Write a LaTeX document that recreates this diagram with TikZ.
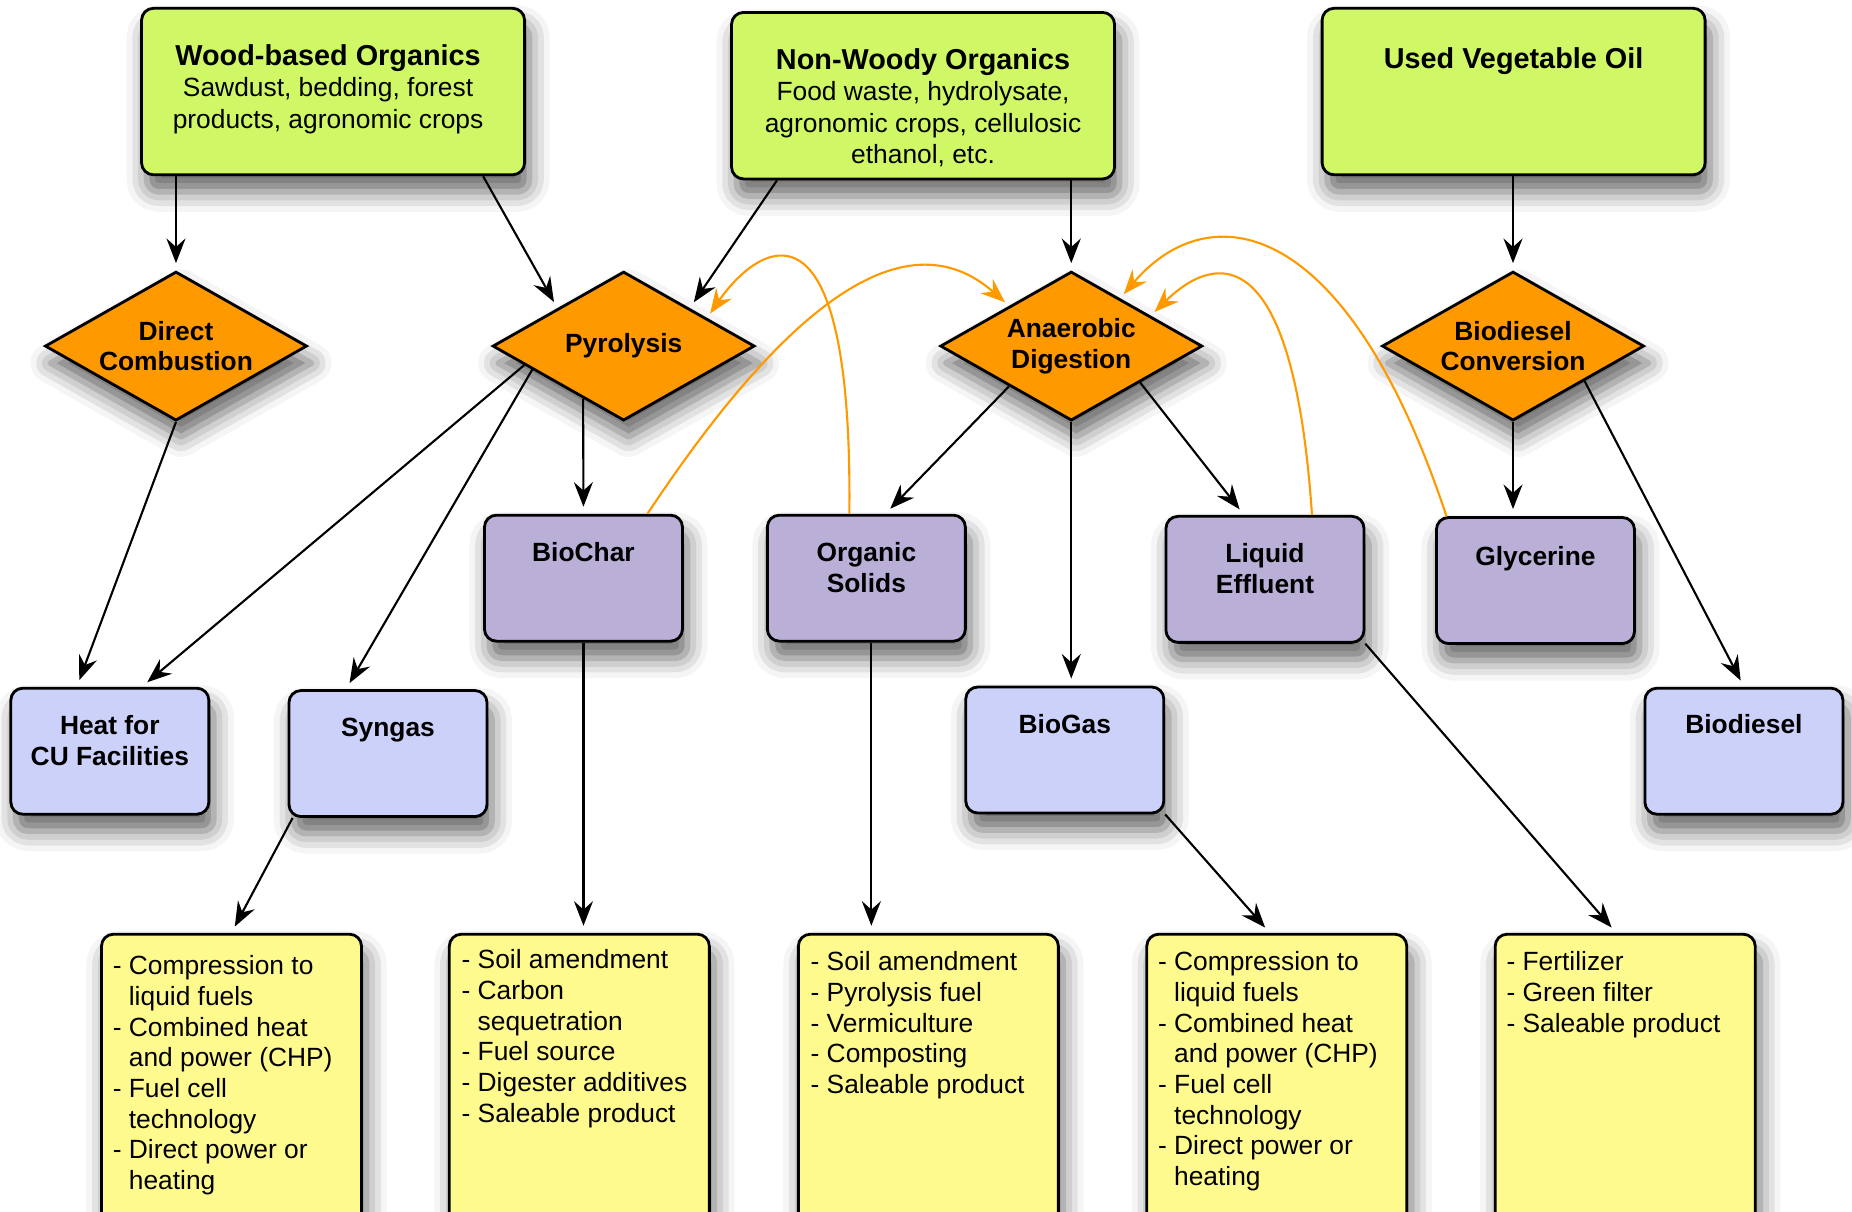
\documentclass[tikz,border=0pt]{standalone}
\usepackage{fontspec}
\setmainfont{Liberation Sans}
\usepackage{tikz}
\usetikzlibrary{positioning}
\usetikzlibrary{shapes.geometric}
\usetikzlibrary{arrows.meta}
\usetikzlibrary{calc}
\usetikzlibrary{shadows.blur}
\usepackage{xcolor}

\definecolor{feedgreen}{RGB}{208,248,102}
\definecolor{procorange}{RGB}{255,153,0}
\definecolor{copurple}{RGB}{186,175,214}
\definecolor{endblue}{RGB}{204,209,250}
\definecolor{useyellow}{RGB}{255,250,142}

\newcommand{\titlefont}{\fontsize{8.2}{9.2}\selectfont\bfseries}
\newcommand{\listindent}{\phantom{- }}

\tikzset{
    boxshadow/.style={blur shadow={shadow xshift=0.5mm, shadow yshift=-1.7mm,
        shadow blur radius=2mm, shadow opacity=60}},
    feedbox/.style={draw, line width=0.8pt, rounded corners=0.12cm, fill=feedgreen,
        minimum width=3.83cm, minimum height=1.665cm, boxshadow},
    procdiamond/.style={diamond, draw, line width=0.8pt, fill=procorange, aspect=1.76,
        inner sep=0pt, minimum width=2.62cm, minimum height=1.49cm, align=center,
        font=\fontsize{7.5}{8.74}\selectfont\bfseries, boxshadow},
    cobox/.style={draw, line width=0.8pt, rounded corners=0.12cm, fill=copurple,
        minimum width=1.98cm, minimum height=1.26cm, boxshadow},
    endbox/.style={cobox, fill=endblue},
    usebox/.style={draw, line width=0.8pt, rounded corners=0.12cm, fill=useyellow,
        minimum width=2.6cm, minimum height=3.19cm, boxshadow},
    boxtext/.style={anchor=north, inner sep=0pt, align=center,
        font=\fontsize{7.5}{8.74}\selectfont\bfseries},
    feedtext/.style={anchor=north, inner sep=0pt, align=center,
        font=\fontsize{7.5}{8.9}\selectfont},
    listtext/.style={anchor=north west, inner sep=0pt, align=left,
        font=\fontsize{7.5}{8.74}\selectfont},
    flow/.style={-{Stealth[length=7pt, width=5.4pt, inset=2.4pt]}, line width=0.6pt,
        shorten >=2pt},
    recycle/.style={-{Stealth[length=7pt, width=5.4pt, inset=2.4pt]}, line width=0.6pt,
        draw=procorange, shorten >=1.5pt}
}

\begin{document}
\begin{tikzpicture}[x=0.01181cm, y=-0.01181cm]
    \useasboundingbox (0,0) rectangle (1568,1026);

    % Feedstocks
    \node[feedbox] (wood) at (282,77.5) {};
    \node[feedbox] (nonwoody) at (781.5,81) {};
    \node[feedbox] (oil) at (1281.5,77.5) {};
    \node[feedtext] (woodtxt) at ([xshift=-0.05cm, yshift=-0.37cm]wood.north)
        {{\titlefont Wood-based Organics}\\Sawdust, bedding, forest\\products, agronomic crops};
    \node[feedtext] (nonwoodytxt) at ([yshift=-0.37cm]nonwoody.north)
        {{\titlefont Non-Woody Organics}\\Food waste, hydrolysate,\\agronomic crops, cellulosic\\ethanol, etc.};
    \node[feedtext] (oiltxt) at ([yshift=-0.40cm]oil.north) {{\titlefont Used Vegetable Oil}};

    % Processes
    \node[procdiamond] (direct) at (149,293) {Direct\\Combustion};
    \node[procdiamond] (pyro) at (528,293) {Pyrolysis};
    \node[procdiamond] (anaer) at (907,293) {Anaerobic\\Digestion};
    \node[procdiamond] (bdconv) at (1281,293) {Biodiesel\\Conversion};

    % Co-products
    \node[cobox] (biochar) at (494,489.5) {};
    \node[cobox] (solids) at (733.5,489.5) {};
    \node[cobox] (effluent) at (1071,490.5) {};
    \node[cobox] (glycerine) at (1300,491.5) {};
    \node[boxtext] (biochartxt) at ([yshift=-0.28cm]biochar.north) {BioChar};
    \node[boxtext] (solidstxt) at ([yshift=-0.28cm]solids.north) {Organic\\Solids};
    \node[boxtext] (effluenttxt) at ([yshift=-0.28cm]effluent.north) {Liquid\\Effluent};
    \node[boxtext] (glycerinetxt) at ([yshift=-0.30cm]glycerine.north) {Glycerine};

    % End products
    \node[endbox] (heat) at (93,636) {};
    \node[endbox] (syngas) at (328.5,638) {};
    \node[endbox] (biogas) at (901.5,635) {};
    \node[endbox] (biodiesel) at (1476.5,636) {};
    \node[boxtext] (heattxt) at ([yshift=-0.28cm]heat.north) {Heat for\\CU Facilities};
    \node[boxtext] (syngastxt) at ([yshift=-0.28cm]syngas.north) {Syngas};
    \node[boxtext] (biogastxt) at ([yshift=-0.28cm]biogas.north) {BioGas};
    \node[boxtext] (biodieseltxt) at ([yshift=-0.27cm]biodiesel.north) {Biodiesel};

    % Uses
    \node[usebox] (use1) at (196,926) {};
    \node[usebox] (use2) at (490.5,926) {};
    \node[usebox] (use3) at (786,926) {};
    \node[usebox] (use4) at (1081,926) {};
    \node[usebox] (use5) at (1376,926) {};
    \node[listtext] (use1txt) at ([xshift=0.12cm, yshift=-0.22cm]use1.north west)
        {- Compression to\\\listindent liquid fuels\\- Combined heat\\\listindent and power (CHP)\\- Fuel cell\\\listindent technology\\- Direct power or\\\listindent heating};
    \node[listtext] (use2txt) at ([xshift=0.13cm, yshift=-0.16cm]use2.north west)
        {- Soil amendment\\- Carbon\\\listindent sequetration\\- Fuel source\\- Digester additives\\- Saleable product};
    \node[listtext] (use3txt) at ([xshift=0.13cm, yshift=-0.18cm]use3.north west)
        {- Soil amendment\\- Pyrolysis fuel\\- Vermiculture\\- Composting\\- Saleable product};
    \node[listtext] (use4txt) at ([xshift=0.12cm, yshift=-0.18cm]use4.north west)
        {- Compression to\\\listindent liquid fuels\\- Combined heat\\\listindent and power (CHP)\\- Fuel cell\\\listindent technology\\- Direct power or\\\listindent heating};
    \node[listtext] (use5txt) at ([xshift=0.12cm, yshift=-0.18cm]use5.north west)
        {- Fertilizer\\- Green filter\\- Saleable product};

    % Main flows
    \draw[flow] (direct.north |- wood.south) -- (direct.north);
    \draw[flow] ([xshift=1.5cm]wood.south) -- (pyro.north west);
    \draw[flow] ([xshift=-1.46cm]nonwoody.south) -- (pyro.north east);
    \draw[flow] (anaer.north |- nonwoody.south) -- (anaer.north);
    \draw[flow] (bdconv.north |- oil.south) -- (bdconv.north);
    \draw[flow] (direct.south) -- ([xshift=-0.33cm]heat.north);
    \draw[flow] ($(pyro.west)!0.25!(pyro.south)$) -- ([xshift=0.32cm]heat.north);
    \draw[flow] ($(pyro.west)!0.31!(pyro.south)$) -- ([xshift=-0.42cm]syngas.north);
    \draw[flow] ($(pyro.west)!0.694!(pyro.south)$) -- (biochar.north);
    \draw[flow] ($(anaer.west)!0.53!(anaer.south)$) -- ([xshift=0.19cm]solids.north);
    \draw[flow] (anaer.south) -- (anaer.south |- biogas.north);
    \draw[flow] ($(anaer.south)!0.52!(anaer.east)$) -- ([xshift=-0.21cm]effluent.north);
    \draw[flow] (bdconv.south) -- (bdconv.south |- glycerine.north);
    \draw[flow] ($(bdconv.south)!0.54!(bdconv.east)$) -- (biodiesel.north);
    \draw[flow] ([xshift=0.05cm]syngas.south west) -- (use1.north);
    \draw[flow] (biochar.south) -- (biochar.south |- use2.north);
    \coordinate (solidsout) at ([xshift=0.05cm]solids.south);
    \draw[flow] (solidsout) -- (solidsout |- use3.north);
    \draw[flow] (biogas.south east) -- ([xshift=-0.07cm]use4.north);
    \draw[flow] (effluent.south east) -- ([xshift=-0.09cm]use5.north);

    % Recycled streams
    \draw[recycle] ([xshift=-0.17cm]solids.north) .. controls +(3,-284) and +(42,-61) .. ($(pyro.north)!0.63!(pyro.east)$);
    \draw[recycle] ([xshift=0.64cm]biochar.north) .. controls +(122,-184) and +(-85,-75) .. ($(anaer.west)!0.53!(anaer.north)$);
    \draw[recycle] ([xshift=0.47cm]effluent.north) .. controls +(-16,-236) and +(54,-53) .. ($(anaer.north)!0.6!(anaer.east)$);
    \draw[recycle] ([xshift=-0.89cm]glycerine.north) .. controls +(-85,-256) and +(75,-88) .. ($(anaer.north)!0.37!(anaer.east)$);
\end{tikzpicture}
\end{document}
